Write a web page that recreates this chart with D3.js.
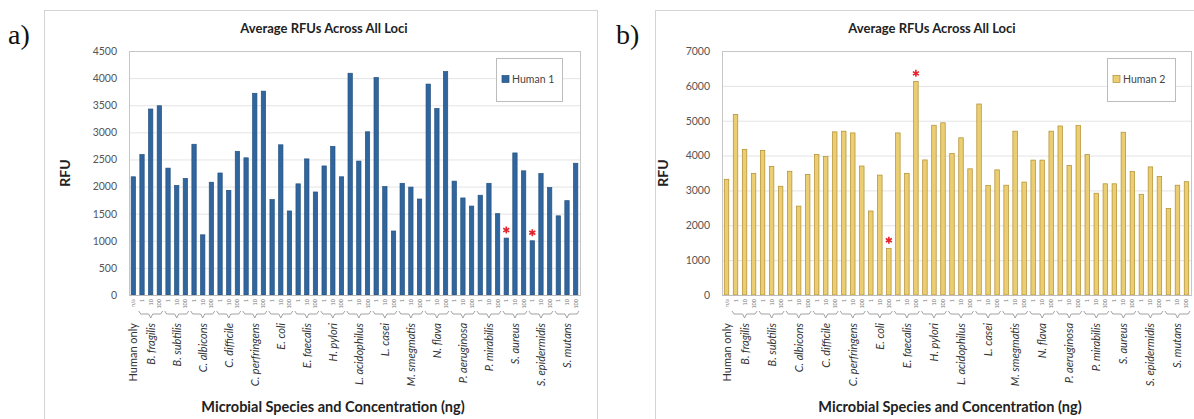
<!DOCTYPE html>
<html>
<head>
<meta charset="utf-8">
<script src="https://cdn.jsdelivr.net/npm/d3@7"></script>
<style>
  body { margin: 0; background: #fff; }
  svg { display: block; font-family: Lato, "Open Sans", sans-serif; }
</style>
</head>
<body>
<svg id="fig" width="1194" height="419"></svg>
<script>
// Microbial species added to each human DNA sample
const species = [
  "B. fragilis", "B. subtilis", "C. albicons", "C. difficile", "C. perfringens",
  "E. coli", "E. faecalis", "H. pylori", "L. acidophilus", "L. casei",
  "M. smegmatis", "N. flava", "P. aeruginosa", "P. mirabilis", "S. aureus",
  "S. epidermidis", "S. mutans"
];
// Amount of microbial DNA (ng) for each bar within a species group
const concentrations = ["1", "10", "100"];
const controlLabel = "Human only";
const controlTick = "n/a";

// Average RFU across all loci, one value per bar (control first)
const human1 = [
  2180, 2590, 3430, 3490, 2340, 2020, 2150, 2780, 1110, 2080, 2250, 1930, 2650,
  2530, 3720, 3760, 1760, 2770, 1550, 2050, 2510, 1900, 2380, 2740, 2180, 4090,
  2470, 3010, 4010, 2000, 1180, 2060, 1990, 1770, 3890, 3440, 4120, 2100, 1790,
  1640, 1840, 2060, 1500, 1050, 2620, 2290, 1000, 2240, 1980, 1460, 1740, 2430
];
const human2 = [
  3320, 5180, 4180, 3490, 4150, 3690, 3120, 3550, 2550, 3460, 4030, 3970, 4680,
  4700, 4650, 3700, 2410, 3440, 1340, 4650, 3490, 6130, 3875, 4870, 4940, 4060,
  4510, 3620, 5480, 3140, 3590, 3150, 4700, 3240, 3870, 3870, 4700, 4850, 3720,
  4860, 4030, 2920, 3190, 3190, 4670, 3540, 2890, 3675, 3400, 2480, 3150, 3250
];
// Bars marked with a red asterisk (0-based bar index)
const flagged1 = [43, 46];
const flagged2 = [18, 21];

const yTicks1 = [0, 500, 1000, 1500, 2000, 2500, 3000, 3500, 4000, 4500];
const yTicks2 = [0, 1000, 2000, 3000, 4000, 5000, 6000, 7000];

const chartTitle = "Average RFUs Across All Loci";
const xTitle = "Microbial Species and Concentration (ng)";
const yTitle = "RFU";

// One entry per bar: group name and concentration tick
const bars = [{ id: "ctl", group: controlLabel, tick: controlTick }];
species.forEach(s => concentrations.forEach(c => bars.push({ id: s + "|" + c, group: s, tick: c })));

const svg = d3.select("#fig");

function drawPanel(cfg) {
  const g = svg.append("g");

  // outer chart frame
  g.append("rect")
    .attr("x", cfg.frame.x).attr("y", cfg.frame.y)
    .attr("width", cfg.frame.w).attr("height", cfg.frame.h)
    .attr("fill", "#fff").attr("stroke", "#d4d4d4").attr("stroke-width", 1);

  // panel letter
  g.append("text")
    .attr("x", cfg.letter.x).attr("y", cfg.letter.y)
    .style("font-family", "'Liberation Serif', serif")
    .style("font-size", "28px").attr("fill", "#111")
    .text(cfg.letter.text);

  const x = d3.scaleBand()
    .domain(bars.map(d => d.id))
    .range([cfg.plot.left, cfg.plot.right])
    .paddingInner(0.5).paddingOuter(0.25);
  const y = d3.scaleLinear()
    .domain([0, cfg.yMax])
    .range([cfg.plot.bottom, cfg.plot.top]);

  // gridlines
  g.append("g").selectAll("line").data(cfg.yTicks.slice(1)).join("line")
    .attr("x1", cfg.plot.left).attr("x2", cfg.plot.right)
    .attr("y1", d => y(d) + 0.5).attr("y2", d => y(d) + 0.5)
    .attr("stroke", "#e4e4e4");

  // plot area border
  g.append("rect")
    .attr("x", cfg.plot.left + 0.5).attr("y", cfg.plot.top + 0.5)
    .attr("width", cfg.plot.right - cfg.plot.left)
    .attr("height", cfg.plot.bottom - cfg.plot.top)
    .attr("fill", "none").attr("stroke", "#c6c6c6");

  // y axis labels
  const yAxis = d3.axisLeft(y).tickValues(cfg.yTicks).tickFormat(d3.format("d"))
    .tickSize(0).tickPadding(12);
  const ya = g.append("g").attr("transform", `translate(${cfg.plot.left},0)`).call(yAxis);
  ya.select(".domain").remove();
  ya.selectAll("text")
    .style("font-family", "Lato, sans-serif").style("font-size", "10.5px").attr("fill", "#555");

  // y axis title
  g.append("text")
    .attr("transform", `translate(${cfg.yTitleX},${(cfg.plot.top + cfg.plot.bottom) / 2}) rotate(-90)`)
    .attr("text-anchor", "middle")
    .style("font-size", "14px").style("font-weight", "bold").attr("fill", "#222")
    .text(yTitle);

  // bars
  const vals = cfg.values;
  g.append("g").selectAll("rect").data(bars).join("rect")
    .attr("x", d => x(d.id))
    .attr("width", x.bandwidth())
    .attr("y", (d, i) => y(vals[i]))
    .attr("height", (d, i) => y(0) - y(vals[i]))
    .attr("fill", cfg.fill)
    .attr("stroke", cfg.stroke).attr("stroke-width", 0.7);

  // baseline
  g.append("line")
    .attr("x1", cfg.plot.left).attr("x2", cfg.plot.right)
    .attr("y1", y(0) + 0.5).attr("y2", y(0) + 0.5)
    .attr("stroke", "#bdbdbd");

  // significance markers
  const star = d3.symbol().type(d3.symbolAsterisk).size(34);
  g.append("g").selectAll("path").data(cfg.flagged).join("path")
    .attr("d", star)
    .attr("transform", i => `translate(${x(bars[i].id) + x.bandwidth() / 2},${y(vals[i]) - 8})`)
    .attr("fill", "none").attr("stroke", "#e4262c").attr("stroke-width", 1.6);

  // concentration ticks under each bar
  g.append("g").selectAll("text").data(bars).join("text")
    .attr("transform", d => `translate(${x(d.id) + x.bandwidth() / 2 + 2},${cfg.plot.bottom + 4}) rotate(-90)`)
    .attr("text-anchor", "end")
    .style("font-size", "5.5px").attr("fill", "#777")
    .text(d => d.tick);

  // brackets under each species group
  const step = x.step();
  const bracket = species.map(s => {
    const ids = concentrations.map(c => s + "|" + c);
    const cx0 = x(ids[0]) + x.bandwidth() / 2 - step / 2 + 1;
    const cx1 = x(ids[2]) + x.bandwidth() / 2 + step / 2 - 1;
    const cm = x(ids[1]) + x.bandwidth() / 2;
    return { cx0, cx1, cm };
  });
  const by = cfg.plot.bottom + 19;
  g.append("g").selectAll("path").data(bracket).join("path")
    .attr("d", b => `M${b.cx0},${by - 3}L${b.cx0 + 2},${by}L${b.cm - 2},${by}L${b.cm},${by + 4}L${b.cm + 2},${by}L${b.cx1 - 2},${by}L${b.cx1},${by - 3}`)
    .attr("fill", "none").attr("stroke", "#8a8a8a").attr("stroke-width", 0.8);

  // group labels (control plus species)
  const groups = [{ name: controlLabel, id: "ctl", italic: false }]
    .concat(species.map(s => ({ name: s, id: s + "|" + concentrations[1], italic: true })));
  g.append("g").selectAll("text").data(groups).join("text")
    .attr("transform", d => `translate(${x(d.id) + x.bandwidth() / 2 + 4},${cfg.plot.bottom + 28}) rotate(-90)`)
    .attr("text-anchor", "end")
    .style("font-size", "11px")
    .style("font-style", d => d.italic ? "italic" : "normal")
    .attr("fill", "#333")
    .text(d => d.name);

  // x axis title
  g.append("text")
    .attr("x", cfg.xTitleX).attr("y", 412)
    .attr("text-anchor", "middle")
    .style("font-size", "14.5px").style("font-weight", "bold").attr("fill", "#222")
    .text(xTitle);

  // chart title
  g.append("text")
    .attr("x", cfg.titleX).attr("y", 33)
    .attr("text-anchor", "middle")
    .style("font-size", "13px").style("font-weight", "bold").attr("fill", "#222")
    .text(chartTitle);

  // legend
  const lg = g.append("g");
  lg.append("rect")
    .attr("x", cfg.legend.x + 0.5).attr("y", cfg.legend.y + 0.5)
    .attr("width", cfg.legend.w).attr("height", cfg.legend.h)
    .attr("fill", "#fff").attr("stroke", "#bcbcbc");
  lg.append("rect")
    .attr("x", cfg.legend.x + 6).attr("y", cfg.legend.y + cfg.legend.h / 2 - 4)
    .attr("width", 7).attr("height", 7)
    .attr("fill", cfg.fill).attr("stroke", cfg.stroke).attr("stroke-width", 0.7);
  lg.append("text")
    .attr("x", cfg.legend.x + 16).attr("y", cfg.legend.y + cfg.legend.h / 2 + 3.5)
    .style("font-size", "10.5px").attr("fill", "#444")
    .text(cfg.series);
}

drawPanel({
  frame: { x: 44.5, y: 10.5, w: 553, h: 430 },
  letter: { x: 8, y: 44, text: "a)" },
  plot: { left: 129, right: 580, top: 51, bottom: 295 },
  yMax: 4500, yTicks: yTicks1, yTitleX: 70,
  values: human1, flagged: flagged1,
  fill: "#30659e", stroke: "#24527f",
  titleX: 324, xTitleX: 333,
  legend: { x: 496, y: 58, w: 66, h: 43 },
  series: "Human 1"
});

drawPanel({
  frame: { x: 655.5, y: 10.5, w: 560, h: 430 },
  letter: { x: 616, y: 44, text: "b)" },
  plot: { left: 722, right: 1191, top: 51, bottom: 295 },
  yMax: 7000, yTicks: yTicks2, yTitleX: 668,
  values: human2, flagged: flagged2,
  fill: "#ebcd72", stroke: "#b08d2f",
  titleX: 932, xTitleX: 950,
  legend: { x: 1107, y: 58, w: 68, h: 43 },
  series: "Human 2"
});
</script>
</body>
</html>
